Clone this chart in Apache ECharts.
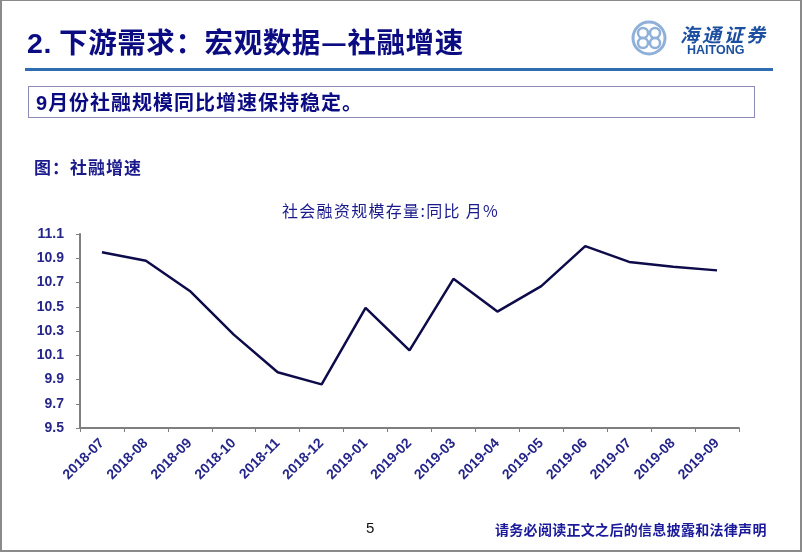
<!DOCTYPE html>
<html>
<head>
<meta charset="utf-8">
<script src="https://cdn.jsdelivr.net/npm/echarts@6/dist/echarts.min.js"></script>
<style>
  html, body { margin: 0; padding: 0; background: #fff; }
  #page { position: relative; width: 802px; height: 554px; overflow: hidden; background: #fff; }
  #chart { position: absolute; left: 0; top: 0; width: 802px; height: 554px; }
  .txt { position: absolute; white-space: nowrap; font-family: "Noto Sans CJK SC", sans-serif; }
  #frame { position: absolute; left: 0; top: 0; width: 798px; height: 549px; border: 2px solid #8a8a8a; border-top: 1px solid #8a8a8a; pointer-events: none; }
</style>
</head>
<body>
<div id="page">
  <div id="chart"></div>
  <div id="frame"></div>
  <div class="txt" style="left:27px; top:21px; font-size:28.5px; font-weight:bold; color:#0b0b82; line-height:40px; letter-spacing:0.6px;"><span style="font-family:'Liberation Sans',sans-serif;">2.</span> 下游需求：宏观数据—社融增速</div>
  <div style="position:absolute; left:25px; top:68px; width:748px; height:3px; background:#2f6db3;"></div>
  <div style="position:absolute; left:28px; top:86px; width:725px; height:30px; border:1px solid #8d8bb5;"></div>
  <div class="txt" style="left:36px; top:88px; font-size:20px; font-weight:bold; color:#0b0b82; line-height:28px; letter-spacing:1px;"><span style="font-family:'Liberation Sans',sans-serif;">9</span>月份社融规模同比增速保持稳定。</div>
  <div class="txt" style="left:34px; top:156px; font-size:17px; font-weight:bold; color:#1a1a8c; line-height:22px; letter-spacing:1px;">图：社融增速</div>
  <div class="txt" style="left:282px; top:199px; font-size:16px; color:#1a1a8c; line-height:22px; letter-spacing:1.3px;">社会融资规模存量:同比 月%</div>
  <div class="txt" style="left:495px; top:519px; font-size:14px; font-weight:bold; color:#1a1a9a; line-height:20px; letter-spacing:0.3px;">请务必阅读正文之后的信息披露和法律声明</div>
  <div class="txt" style="left:366px; top:518px; font-size:15px; color:#111; line-height:20px; font-family:'Liberation Sans',sans-serif;">5</div>
  <div class="txt" style="left:680px; top:22px; font-size:19px; font-style:italic; font-weight:bold; color:#1c4fa0; line-height:24px; letter-spacing:3px;">海通证券</div>
  <div class="txt" style="left:687px; top:43px; font-size:12.5px; font-weight:bold; color:#1c4fa0; line-height:14px; font-family:'Liberation Sans',sans-serif;">HAITONG</div>
</div>
<script>
const categories = ["2018-07","2018-08","2018-09","2018-10","2018-11","2018-12","2019-01","2019-02","2019-03","2019-04","2019-05","2019-06","2019-07","2019-08","2019-09"];
const growthValues = [10.95, 10.88, 10.63, 10.27, 9.96, 9.86, 10.49, 10.14, 10.73, 10.46, 10.67, 11.00, 10.87, 10.83, 10.80];
const yTickLabels = ["9.5","9.7","9.9","10.1","10.3","10.5","10.7","10.9","11.1"];

const chart = echarts.init(document.getElementById('chart'), null, { renderer: 'canvas' });
const axisColor = '#7f7f7f';
const labelColor = '#26268a';
chart.setOption({
  animation: false,
  backgroundColor: '#fff',
  grid: { left: 80, right: 63, top: 234, bottom: 126, containLabel: false },
  xAxis: {
    type: 'category',
    data: categories,
    boundaryGap: true,
    axisLine: { lineStyle: { color: axisColor, width: 2 } },
    axisTick: { show: true, length: 4, inside: false, alignWithLabel: false, lineStyle: { color: axisColor, width: 1 } },
    axisLabel: { rotate: 45, margin: 13, interval: 0, fontFamily: 'Liberation Sans', fontWeight: 'bold', fontSize: 14, color: labelColor }
  },
  yAxis: {
    type: 'value',
    min: 9.5, max: 11.1, interval: 0.2,
    axisLine: { show: true, lineStyle: { color: axisColor, width: 2 } },
    axisTick: { show: true, length: 4, lineStyle: { color: axisColor, width: 1 } },
    splitLine: { show: false },
    axisLabel: {
      margin: 16, fontFamily: 'Liberation Sans', fontWeight: 'bold', fontSize: 14, color: labelColor,
      formatter: function (v) { const i = Math.round((v - 9.5) / 0.2); return yTickLabels[i] !== undefined ? yTickLabels[i] : ''; }
    }
  },
  series: [{
    type: 'line',
    data: growthValues,
    symbol: 'none',
    lineStyle: { color: '#0d0b4a', width: 2.5 }
  }],
  graphic: [
    { type: 'circle', shape: { cx: 649, cy: 38, r: 16 }, style: { fill: 'none', stroke: '#8fb0d9', lineWidth: 3 } },
    { type: 'circle', shape: { cx: 643, cy: 33, r: 5 }, style: { fill: 'none', stroke: '#8fb0d9', lineWidth: 2.5 } },
    { type: 'circle', shape: { cx: 655, cy: 33, r: 5 }, style: { fill: 'none', stroke: '#8fb0d9', lineWidth: 2.5 } },
    { type: 'circle', shape: { cx: 643, cy: 43, r: 5 }, style: { fill: 'none', stroke: '#8fb0d9', lineWidth: 2.5 } },
    { type: 'circle', shape: { cx: 655, cy: 43, r: 5 }, style: { fill: 'none', stroke: '#8fb0d9', lineWidth: 2.5 } }
  ]
});
</script>
</body>
</html>
